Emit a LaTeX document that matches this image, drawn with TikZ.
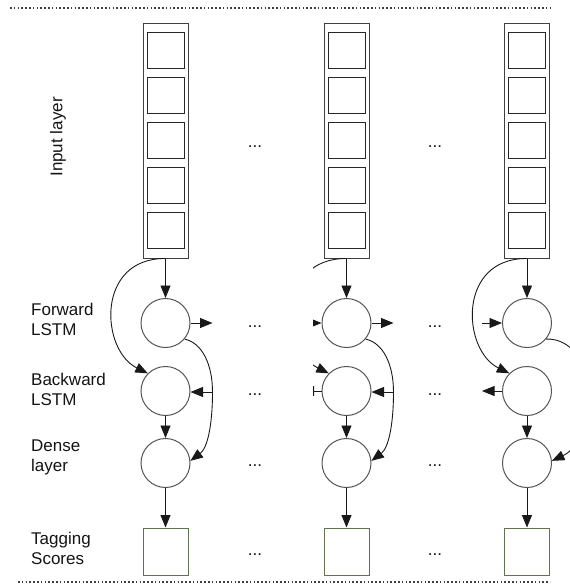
\documentclass[tikz,border=0pt]{standalone}
\usepackage{fontspec}
\setmainfont{Liberation Sans}
\usetikzlibrary{arrows.meta}
\definecolor{txt}{RGB}{20,20,20}
\definecolor{scorecol}{RGB}{95,115,80}
\definecolor{circcol}{RGB}{85,85,85}
\begin{document}
\begin{tikzpicture}[x=1pt,y=-1pt,
  lbl/.style={font=\fontsize{17}{20}\selectfont, text=txt, align=left, anchor=west, inner sep=0},
  dotsnode/.style={font=\fontsize{17}{20}\selectfont, text=txt, inner sep=0, anchor=base},
  outer/.style={draw=black!75, line width=1pt, minimum width=45pt, minimum height=235pt, inner sep=0},
  cell/.style={draw=black!85, line width=1pt, minimum width=37pt, minimum height=36pt, inner sep=0},
  neuron/.style={circle, draw=circcol, line width=1pt, minimum size=49pt, inner sep=0},
  score/.style={draw=scorecol, line width=1pt, minimum width=45pt, minimum height=47pt, inner sep=0},
  arr/.style={-{Triangle[length=12.5pt,width=10pt]}, line width=0.9pt, draw=black!90},
  sepline/.style={line width=1.6pt, dash pattern=on 1.6pt off 2.2pt, draw=black!75}
]
\useasboundingbox (0,0) rectangle (570,584);
\clip (0,0) rectangle (570,584);

\draw[sepline] (10,8) -- (550,8);
\draw[sepline] (18,582) -- (550,582);

% labels
\node[lbl, rotate=90, anchor=center] (linput) at (58,137) {Input layer};
\node[lbl] (lfwd) at (31,319) {Forward\\LSTM};
\node[lbl] (lbwd) at (31,389) {Backward\\LSTM};
\node[lbl] (ldense) at (31,457) {Dense\\layer};
\node[lbl] (ltag) at (31,548) {Tagging\\Scores};

% dots
\foreach \j/\y in {a/147,b/327,c/395,d/466,e/555}{
  \node[dotsnode] (d1\j) at (255,\y) {...};
  \node[dotsnode] (d2\j) at (435,\y) {...};
}

\foreach \i/\cx in {1/165.5,2/346.5,3/527}{
  \node[outer] (r\i) at (\cx,140.5) {};
  \foreach \k/\yy in {1/50.5,2/95,3/140,4/185,5/230}{
    \node[cell] (s\i\k) at (\cx,\yy) {};
  }
  \node[neuron] (f\i) at (\cx,323) {};
  \node[neuron] (b\i) at (\cx,391) {};
  \node[neuron] (n\i) at (\cx,463) {};
  \node[score] (t\i) at (\cx,551.5) {};
  \draw[arr] (r\i.south) -- (f\i.north);
  \draw[arr] (b\i.south) -- (n\i.north);
  \draw[arr] (n\i.south) -- (t\i.north);
}

% columns 1 and 2: forward output and the forward-to-dense curve with branch
\foreach \i/\cx in {1/165.5,2/346.5}{
  \coordinate (fo\i) at (\cx+47,323);
  \coordinate (br\i) at (\cx+47,392);
  \draw[arr] (f\i.east) -- (fo\i);
  \draw[arr] (f\i.-40) .. controls (\cx+37,343) and (\cx+47,365) .. (br\i)
     .. controls (\cx+47,425) and (\cx+42,448) .. (n\i.5);
  \draw[arr] (br\i) -- (br\i -| b\i.east);
}

% column 3: curve leaving the frame on the right
\coordinate (br3) at (527+62,395);
\draw[arr] (f3.-40) .. controls (527+45,338) and (527+62,365) .. (br3)
   .. controls (527+62,430) and (527+48,450) .. (n3.5);

% column 1: input to backward
\draw[arr] (r1.south) .. controls (165.5-70,258) and (165.5-65,350) .. (b1.135);

% column 2 left parts (partly hidden)
\begin{scope}
  \clip (313,0) rectangle (570,584);
  \coordinate (fi2) at (346.5-45,323);
  \coordinate (bo2) at (346.5-45,391);
  \draw[arr] (r2.south) .. controls (346.5-70,258) and (346.5-65,350) .. (b2.135);
  \draw[arr] (fi2) -- (f2.west);
  \draw[arr] (b2.west) -- (bo2);
\end{scope}

% column 3 left parts
\coordinate (fi3) at (527-45,323);
\coordinate (bo3) at (527-45,391);
\draw[arr] (r3.south) .. controls (527-70,258) and (527-65,350) .. (b3.135);
\draw[arr] (fi3) -- (f3.west);
\draw[arr] (b3.west) -- (bo3);
\end{tikzpicture}
\end{document}
